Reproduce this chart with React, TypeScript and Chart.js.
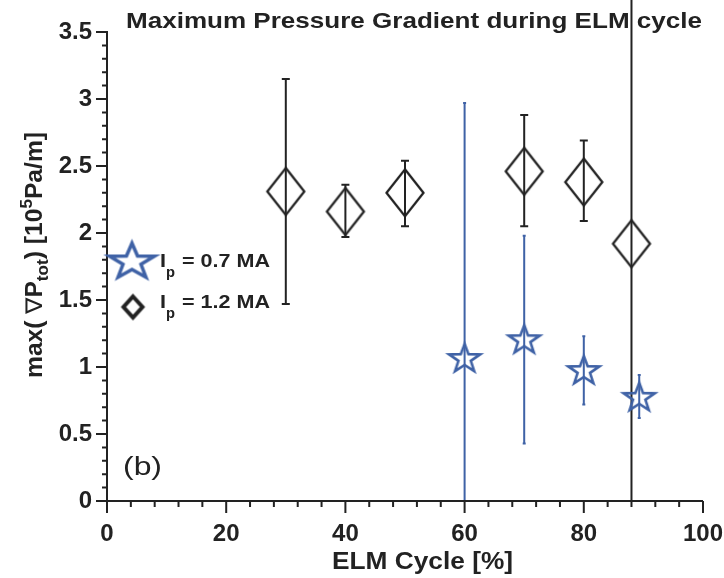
import React, { useEffect, useRef } from "react";
import { Chart, registerables } from "chart.js";

Chart.register(...registerables);

// ---------- data ----------
const titleText = "Maximum Pressure Gradient during ELM cycle";
const xAxisTitle = "ELM Cycle [%]";
const panelLabel = "(b)";
const legendLow = "= 0.7 MA";
const legendHigh = "= 1.2 MA";

const xTicks = [0, 20, 40, 60, 80, 100];
const yTicks = [0, 0.5, 1, 1.5, 2, 2.5, 3, 3.5];
const yTickLabels = ["0", "0.5", "1", "1.5", "2", "2.5", "3", "3.5"];

// Ip = 1.2 MA (black diamonds)
const cycleHigh = [30, 40, 50, 70, 80, 88];
const gradHigh = [2.31, 2.16, 2.3, 2.46, 2.38, 1.92];
const lowHigh = [1.47, 1.97, 2.05, 2.05, 2.09, 0];
const upHigh = [3.15, 2.36, 2.54, 2.88, 2.69, 3.8];

// Ip = 0.7 MA (blue stars)
const cycleLow = [60, 70, 80, 89.3];
const gradLow = [1.06, 1.2, 0.97, 0.77];
const lowLow = [0, 0.43, 0.72, 0.62];
const upLow = [2.97, 1.98, 1.23, 0.94];

const BLUE = "#3f62a6";
const BLACK = "#222222";
const FONT = "'Liberation Sans', Arial, Helvetica, sans-serif";

function starCanvas(w: number, h: number, lw: number, color: string) {
  const rx = w / 1.902;
  const ry = h / 1.809;
  const pad = lw + 3;
  const c = document.createElement("canvas");
  c.width = Math.ceil(2 * rx + 2 * pad);
  c.height = Math.ceil(2 * ry + 2 * pad);
  const ctx = c.getContext("2d")!;
  ctx.translate(c.width / 2, c.height / 2);
  ctx.beginPath();
  for (let i = 0; i < 10; i++) {
    const a = -Math.PI / 2 + (i * Math.PI) / 5;
    const r = i % 2 ? 0.4 : 1;
    const px = Math.cos(a) * r * rx;
    const py = Math.sin(a) * r * ry;
    if (i === 0) ctx.moveTo(px, py);
    else ctx.lineTo(px, py);
  }
  ctx.closePath();
  ctx.strokeStyle = color;
  ctx.lineWidth = lw;
  ctx.lineJoin = "miter";
  ctx.stroke();
  return c;
}

function diamondCanvas(w: number, h: number, lw: number, color: string) {
  const pad = lw + 3;
  const c = document.createElement("canvas");
  c.width = Math.ceil(w + 2 * pad);
  c.height = Math.ceil(h + 2 * pad);
  const ctx = c.getContext("2d")!;
  ctx.translate(c.width / 2, c.height / 2);
  ctx.beginPath();
  ctx.moveTo(0, -h / 2);
  ctx.lineTo(w / 2, 0);
  ctx.lineTo(0, h / 2);
  ctx.lineTo(-w / 2, 0);
  ctx.closePath();
  ctx.strokeStyle = color;
  ctx.lineWidth = lw;
  ctx.lineJoin = "miter";
  ctx.stroke();
  return c;
}

function fitText(ctx: CanvasRenderingContext2D, text: string, x: number, y: number, width: number) {
  const w = ctx.measureText(text).width;
  ctx.save();
  ctx.translate(x, y);
  ctx.scale(width / w, 1);
  ctx.textAlign = "left";
  ctx.fillText(text, 0, 0);
  ctx.restore();
}

const errorSets = [
  { xs: cycleHigh, lo: lowHigh, hi: upHigh, color: BLACK, cap: 8, lw: 2 },
  { xs: cycleLow, lo: lowLow, hi: upLow, color: BLUE, cap: 3, lw: 2 },
];

const errorBarPlugin = {
  id: "errorBars",
  beforeDatasetsDraw(chart: any) {
    const { ctx, scales } = chart;
    const xs = scales.x;
    const ys = scales.y;
    ctx.save();
    errorSets.forEach((s) => {
      ctx.strokeStyle = s.color;
      ctx.lineWidth = s.lw;
      s.xs.forEach((xv, i) => {
        const px = xs.getPixelForValue(xv);
        const p1 = ys.getPixelForValue(s.lo[i]);
        const p2 = ys.getPixelForValue(s.hi[i]);
        ctx.beginPath();
        ctx.moveTo(px, p1);
        ctx.lineTo(px, p2);
        if (s.lo[i] > 0) {
          ctx.moveTo(px - s.cap / 2, p1);
          ctx.lineTo(px + s.cap / 2, p1);
        }
        if (s.hi[i] < 3.5) {
          ctx.moveTo(px - s.cap / 2, p2);
          ctx.lineTo(px + s.cap / 2, p2);
        }
        ctx.stroke();
      });
    });
    ctx.restore();
  },
};

const axesPlugin = {
  id: "axesDraw",
  afterDraw(chart: any) {
    const { ctx, chartArea, scales } = chart;
    const xs = scales.x;
    const ys = scales.y;
    ctx.save();
    ctx.strokeStyle = BLACK;
    ctx.lineWidth = 2;
    ctx.beginPath();
    ctx.moveTo(chartArea.left, chartArea.top - 1);
    ctx.lineTo(chartArea.left, chartArea.bottom);
    ctx.lineTo(chartArea.right, chartArea.bottom);
    ctx.stroke();
    ctx.beginPath();
    for (let v = 0; v <= 100.001; v += 4) {
      const px = xs.getPixelForValue(v);
      const major = Math.abs(v % 20) < 0.001;
      ctx.moveTo(px, chartArea.bottom);
      ctx.lineTo(px, chartArea.bottom + (major ? 12 : 6));
    }
    for (let k = 0; k <= 35; k++) {
      const v = k / 10;
      const py = ys.getPixelForValue(v);
      const major = k % 5 === 0;
      ctx.moveTo(chartArea.left, py);
      ctx.lineTo(chartArea.left - (major ? 11 : 5), py);
    }
    ctx.stroke();
    ctx.restore();
  },
};

const legendStar = starCanvas(45, 34, 3.5, BLUE);
const legendDiamond = diamondCanvas(19, 21, 4, BLACK);

const textPlugin = {
  id: "texts",
  afterDraw(chart: any) {
    const { ctx } = chart;
    ctx.save();
    ctx.fillStyle = BLACK;
    ctx.textBaseline = "alphabetic";

    // title
    ctx.font = `bold 22px ${FONT}`;
    fitText(ctx, titleText, 126, 28, 576);

    // x-axis title
    ctx.font = `bold 24px ${FONT}`;
    fitText(ctx, xAxisTitle, 332, 569, 181);

    // panel label
    ctx.font = `26px ${FONT}`;
    fitText(ctx, panelLabel, 123, 475, 39);

    // y-axis title (rotated)
    const parts = [
      { t: "max( ", s: 23, dy: 0, w: "bold" },
      { t: "\u2207", s: 23, dy: 0, w: "normal" },
      { t: "P", s: 23, dy: 0, w: "bold" },
      { t: "tot", s: 16, dy: 6, w: "bold" },
      { t: ") [10", s: 23, dy: 0, w: "bold" },
      { t: "5", s: 16, dy: -10, w: "bold" },
      { t: "Pa/m]", s: 23, dy: 0, w: "bold" },
    ];
    let total = 0;
    const widths = parts.map((p) => {
      ctx.font = `${p.w} ${p.s}px ${FONT}`;
      const w = ctx.measureText(p.t).width;
      total += w;
      return w;
    });
    const target = 246;
    const sc = target / total;
    ctx.save();
    ctx.translate(42, 255);
    ctx.rotate(-Math.PI / 2);
    ctx.scale(sc, 1);
    let cx = -total / 2;
    parts.forEach((p, i) => {
      ctx.font = `${p.w} ${p.s}px ${FONT}`;
      ctx.fillText(p.t, cx, p.dy);
      cx += widths[i];
    });
    ctx.restore();

    // legend
    ctx.drawImage(legendStar, 132 - legendStar.width / 2, 262 - legendStar.height / 2);
    ctx.drawImage(legendDiamond, 133 - legendDiamond.width / 2, 307 - legendDiamond.height / 2);
    const rows = [
      { y: 267, txt: legendLow },
      { y: 308, txt: legendHigh },
    ];
    rows.forEach((r) => {
      ctx.font = `bold 19px ${FONT}`;
      fitText(ctx, "I", 160, r.y, 6);
      ctx.font = `bold 15px ${FONT}`;
      fitText(ctx, "p", 166, r.y + 10, 9);
      ctx.font = `bold 19px ${FONT}`;
      fitText(ctx, r.txt, 182, r.y, 88);
    });
    ctx.restore();
  },
};

export default function App() {
  const ref = useRef<HTMLCanvasElement | null>(null);
  useEffect(() => {
    if (!ref.current) return;
    const starImg = starCanvas(31, 27, 2.6, BLUE);
    const diamondImg = diamondCanvas(37, 47, 2.3, BLACK);
    const chart = new Chart(ref.current, {
      type: "scatter",
      data: {
        datasets: [
          {
            label: "Ip = 1.2 MA",
            data: cycleHigh.map((x, i) => ({ x, y: gradHigh[i] })),
            pointStyle: diamondImg as any,
            showLine: false,
          },
          {
            label: "Ip = 0.7 MA",
            data: cycleLow.map((x, i) => ({ x, y: gradLow[i] })),
            pointStyle: starImg as any,
            showLine: false,
          },
        ],
      },
      options: {
        animation: false,
        responsive: false,
        devicePixelRatio: 1,
        layout: { padding: { top: 32, right: 21, left: 0, bottom: 0 } },
        plugins: { legend: { display: false }, tooltip: { enabled: false } },
        scales: {
          x: {
            type: "linear",
            min: 0,
            max: 100,
            afterBuildTicks: (s: any) => {
              s.ticks = xTicks.map((v) => ({ value: v }));
            },
            ticks: {
              autoSkip: false,
              maxRotation: 0,
              padding: 19,
              color: BLACK,
              font: { family: FONT, size: 24, weight: "bold" },
              callback: (v: any) => String(v),
            },
            grid: { display: false, drawTicks: false },
            border: { display: false },
            afterFit: (s: any) => {
              s.height = 77;
              s.paddingLeft = 0;
              s.paddingRight = 0;
            },
          },
          y: {
            type: "linear",
            min: 0,
            max: 3.5,
            afterBuildTicks: (s: any) => {
              s.ticks = yTicks.map((v) => ({ value: v }));
            },
            ticks: {
              autoSkip: false,
              padding: 15,
              color: BLACK,
              font: { family: FONT, size: 24, weight: "bold" },
              callback: (v: any) => {
                const i = yTicks.indexOf(Number(v));
                return i >= 0 ? yTickLabels[i] : "";
              },
            },
            grid: { display: false, drawTicks: false },
            border: { display: false },
            afterFit: (s: any) => {
              s.width = 107;
              s.paddingTop = 0;
              s.paddingBottom = 0;
            },
          },
        },
      } as any,
      plugins: [errorBarPlugin, axesPlugin, textPlugin],
    });
    return () => chart.destroy();
  }, []);
  return (
    <div style={{ position: "absolute", left: 0, top: 0, width: 724, height: 578, background: "#fff" }}>
      <canvas ref={ref} width={724} height={578} style={{ display: "block" }} />
    </div>
  );
}
